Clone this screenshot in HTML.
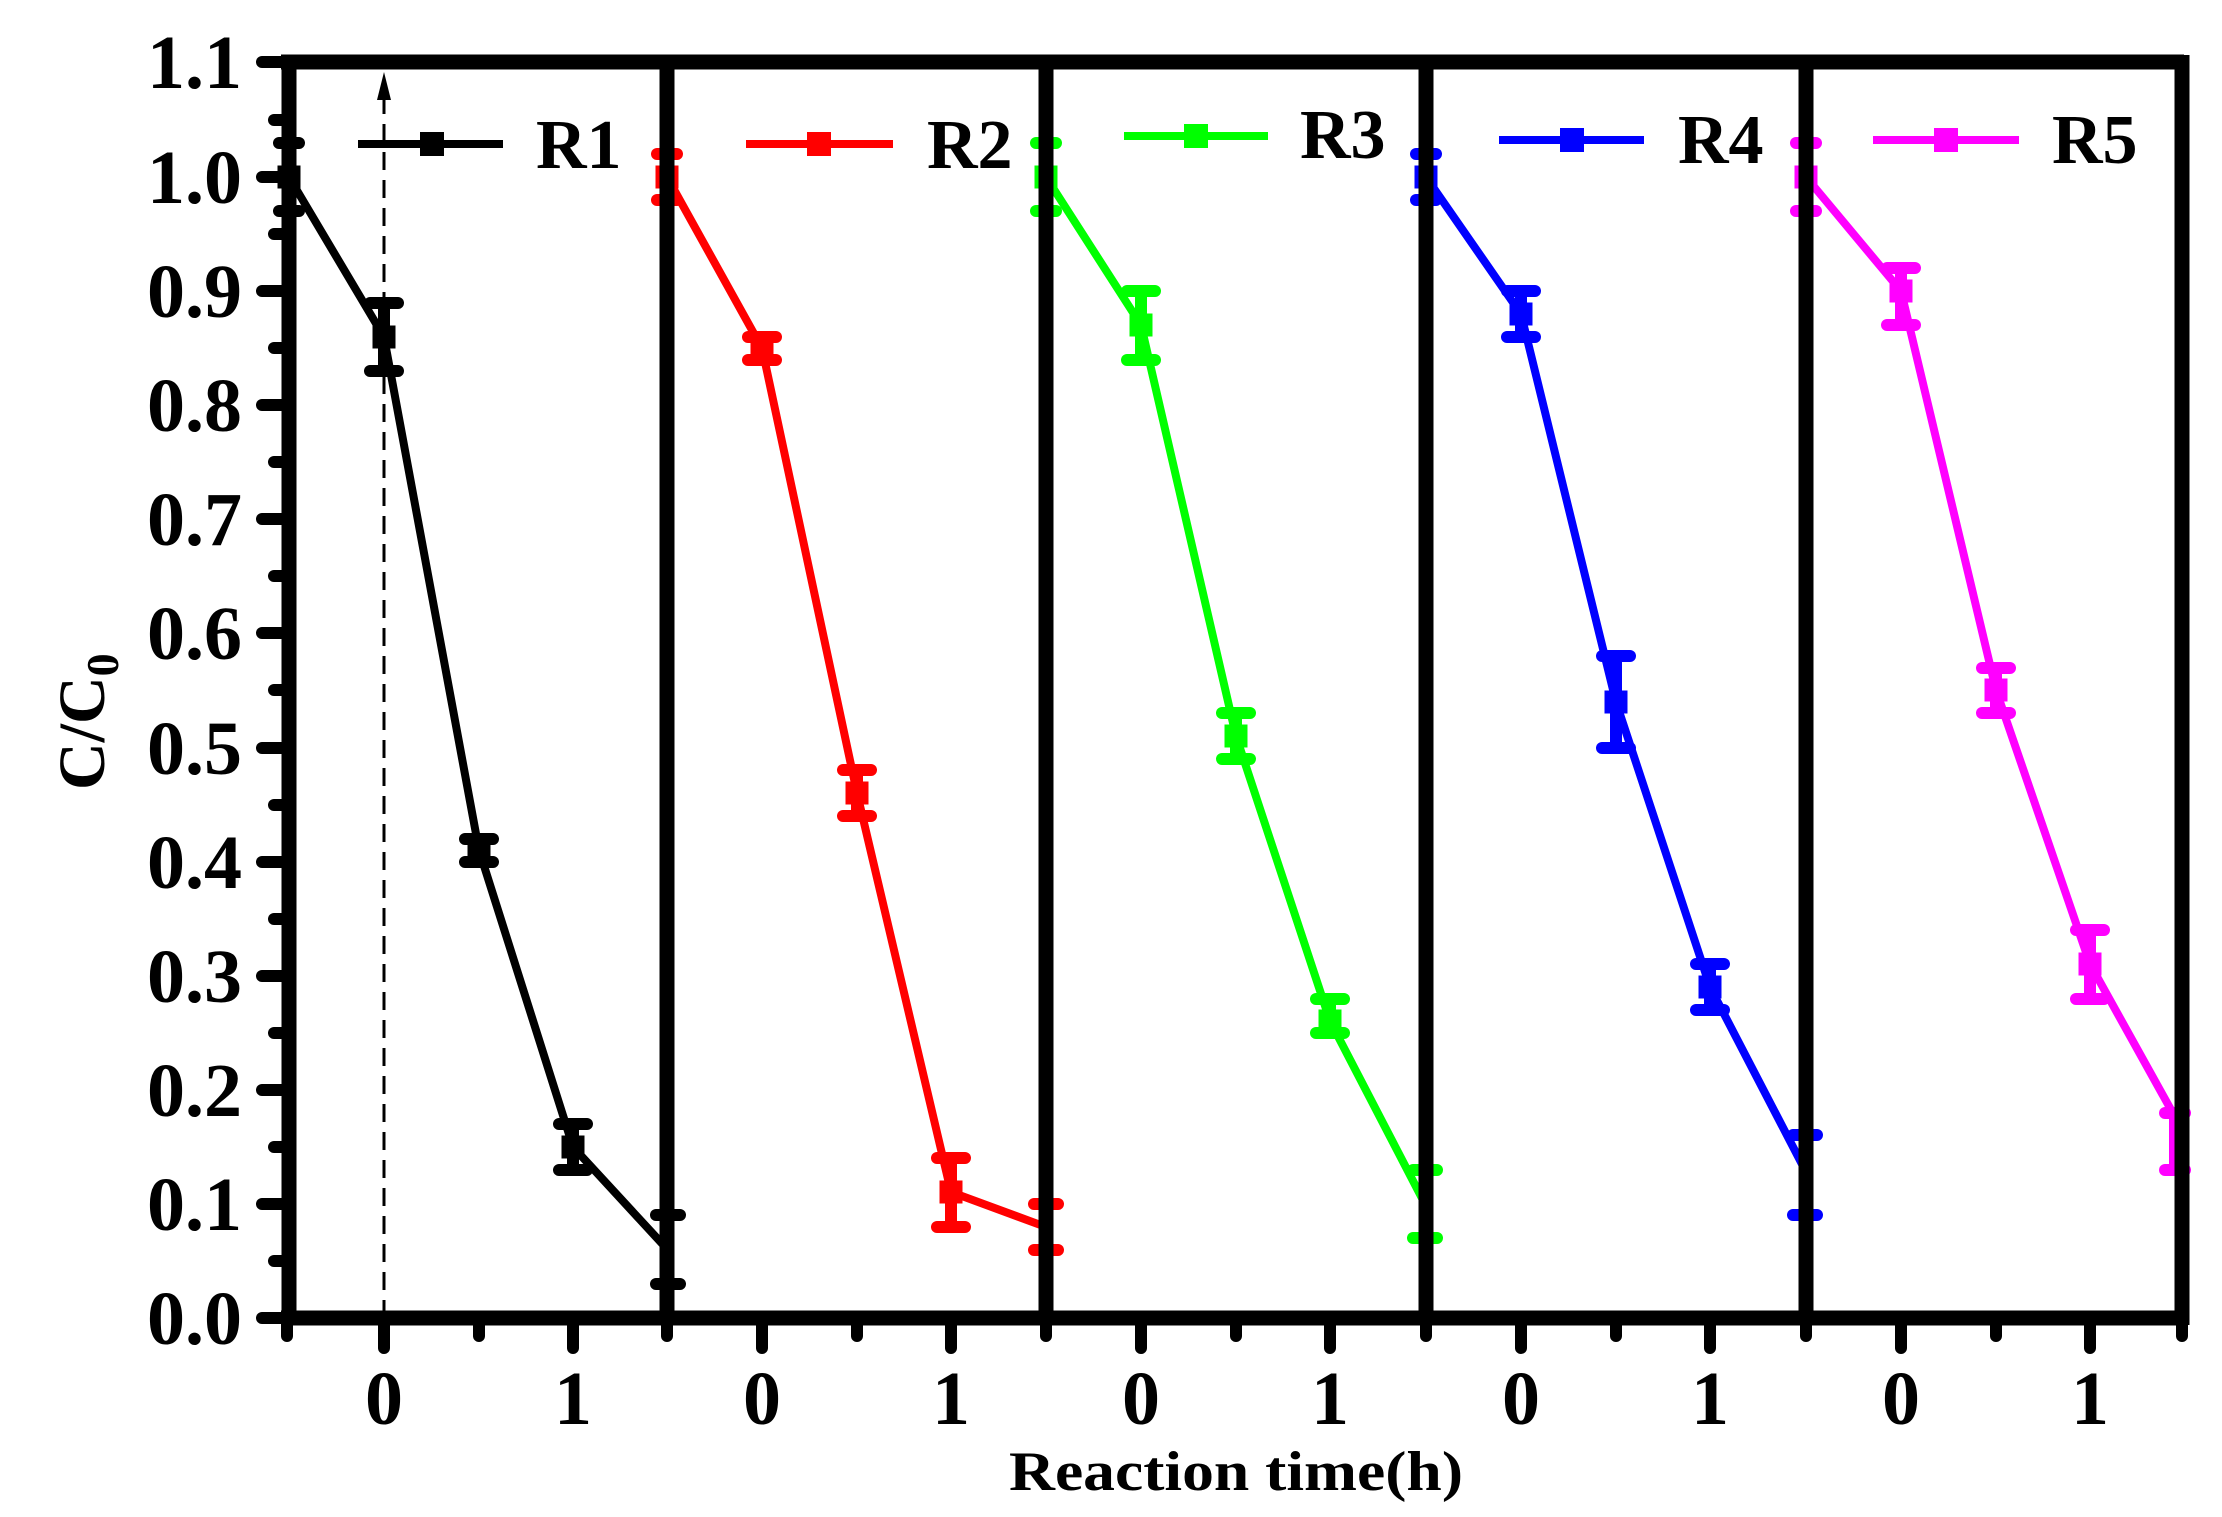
<!DOCTYPE html>
<html><head><meta charset="utf-8"><style>
html,body{margin:0;padding:0;background:#fff;}
svg{display:block;}
text{font-family:"Liberation Serif",serif;font-weight:bold;fill:#000;}
</style></head><body>
<svg width="2222" height="1517" viewBox="0 0 2222 1517" xmlns="http://www.w3.org/2000/svg">
<rect width="2222" height="1517" fill="#fff"/>
<line x1="384" y1="1318" x2="384" y2="90" stroke="#000" stroke-width="3" stroke-dasharray="18,10"/>
<polygon points="384,72 377,100 391,100" fill="#000"/>

<g stroke="#000" fill="#000">
<polyline fill="none" stroke-width="8" points="289,177 384,337 479,850 573,1147 668,1250"/>
<g stroke-width="12" stroke-linecap="round">
<line x1="289" y1="143" x2="289" y2="211"/><line x1="279" y1="143" x2="299" y2="143"/><line x1="279" y1="211" x2="299" y2="211"/>
<line x1="384" y1="303" x2="384" y2="371"/><line x1="370" y1="303" x2="398" y2="303"/><line x1="370" y1="371" x2="398" y2="371"/>
<line x1="479" y1="839" x2="479" y2="862"/><line x1="465" y1="839" x2="493" y2="839"/><line x1="465" y1="862" x2="493" y2="862"/>
<line x1="573" y1="1124" x2="573" y2="1170"/><line x1="559" y1="1124" x2="587" y2="1124"/><line x1="559" y1="1170" x2="587" y2="1170"/>
<line x1="668" y1="1215" x2="668" y2="1284"/><line x1="656" y1="1215" x2="680" y2="1215"/><line x1="656" y1="1284" x2="680" y2="1284"/>
</g>
<rect x="278" y="166" width="22" height="22"/><rect x="373" y="326" width="22" height="22"/><rect x="468" y="839" width="22" height="22"/><rect x="562" y="1136" width="22" height="22"/>
</g>
<g stroke="#ff0000" fill="#ff0000">
<polyline fill="none" stroke-width="8" points="667,177 762,348 857,793 951,1192 1046,1227"/>
<g stroke-width="12" stroke-linecap="round">
<line x1="667" y1="154" x2="667" y2="200"/><line x1="657" y1="154" x2="677" y2="154"/><line x1="657" y1="200" x2="677" y2="200"/>
<line x1="762" y1="337" x2="762" y2="360"/><line x1="748" y1="337" x2="776" y2="337"/><line x1="748" y1="360" x2="776" y2="360"/>
<line x1="857" y1="770" x2="857" y2="816"/><line x1="843" y1="770" x2="871" y2="770"/><line x1="843" y1="816" x2="871" y2="816"/>
<line x1="951" y1="1158" x2="951" y2="1227"/><line x1="937" y1="1158" x2="965" y2="1158"/><line x1="937" y1="1227" x2="965" y2="1227"/>
<line x1="1046" y1="1204" x2="1046" y2="1250"/><line x1="1034" y1="1204" x2="1058" y2="1204"/><line x1="1034" y1="1250" x2="1058" y2="1250"/>
</g>
<rect x="656" y="166" width="22" height="22"/><rect x="751" y="337" width="22" height="22"/><rect x="846" y="782" width="22" height="22"/><rect x="940" y="1181" width="22" height="22"/>
</g>
<g stroke="#00ff00" fill="#00ff00">
<polyline fill="none" stroke-width="8" points="1046,177 1141,325 1236,736 1330,1021 1425,1204"/>
<g stroke-width="12" stroke-linecap="round">
<line x1="1046" y1="143" x2="1046" y2="211"/><line x1="1036" y1="143" x2="1056" y2="143"/><line x1="1036" y1="211" x2="1056" y2="211"/>
<line x1="1141" y1="291" x2="1141" y2="360"/><line x1="1127" y1="291" x2="1155" y2="291"/><line x1="1127" y1="360" x2="1155" y2="360"/>
<line x1="1236" y1="713" x2="1236" y2="759"/><line x1="1222" y1="713" x2="1250" y2="713"/><line x1="1222" y1="759" x2="1250" y2="759"/>
<line x1="1330" y1="999" x2="1330" y2="1033"/><line x1="1316" y1="999" x2="1344" y2="999"/><line x1="1316" y1="1033" x2="1344" y2="1033"/>
<line x1="1425" y1="1170" x2="1425" y2="1238"/><line x1="1413" y1="1170" x2="1437" y2="1170"/><line x1="1413" y1="1238" x2="1437" y2="1238"/>
</g>
<rect x="1035" y="166" width="22" height="22"/><rect x="1130" y="314" width="22" height="22"/><rect x="1225" y="725" width="22" height="22"/><rect x="1319" y="1010" width="22" height="22"/>
</g>
<g stroke="#0000ff" fill="#0000ff">
<polyline fill="none" stroke-width="8" points="1426,177 1521,314 1616,702 1710,987 1805,1170"/>
<g stroke-width="12" stroke-linecap="round">
<line x1="1426" y1="154" x2="1426" y2="200"/><line x1="1416" y1="154" x2="1436" y2="154"/><line x1="1416" y1="200" x2="1436" y2="200"/>
<line x1="1521" y1="291" x2="1521" y2="337"/><line x1="1507" y1="291" x2="1535" y2="291"/><line x1="1507" y1="337" x2="1535" y2="337"/>
<line x1="1616" y1="656" x2="1616" y2="748"/><line x1="1602" y1="656" x2="1630" y2="656"/><line x1="1602" y1="748" x2="1630" y2="748"/>
<line x1="1710" y1="964" x2="1710" y2="1010"/><line x1="1696" y1="964" x2="1724" y2="964"/><line x1="1696" y1="1010" x2="1724" y2="1010"/>
<line x1="1805" y1="1135" x2="1805" y2="1215"/><line x1="1793" y1="1135" x2="1817" y2="1135"/><line x1="1793" y1="1215" x2="1817" y2="1215"/>
</g>
<rect x="1415" y="166" width="22" height="22"/><rect x="1510" y="303" width="22" height="22"/><rect x="1605" y="691" width="22" height="22"/><rect x="1699" y="976" width="22" height="22"/>
</g>
<g stroke="#ff00ff" fill="#ff00ff">
<polyline fill="none" stroke-width="8" points="1806,177 1901,291 1996,690 2090,964 2185,1135"/>
<g stroke-width="12" stroke-linecap="round">
<line x1="1806" y1="143" x2="1806" y2="211"/><line x1="1796" y1="143" x2="1816" y2="143"/><line x1="1796" y1="211" x2="1816" y2="211"/>
<line x1="1901" y1="268" x2="1901" y2="325"/><line x1="1887" y1="268" x2="1915" y2="268"/><line x1="1887" y1="325" x2="1915" y2="325"/>
<line x1="1996" y1="668" x2="1996" y2="713"/><line x1="1982" y1="668" x2="2010" y2="668"/><line x1="1982" y1="713" x2="2010" y2="713"/>
<line x1="2090" y1="930" x2="2090" y2="999"/><line x1="2076" y1="930" x2="2104" y2="930"/><line x1="2076" y1="999" x2="2104" y2="999"/>
<line x1="2175" y1="1113" x2="2175" y2="1170"/><line x1="2165" y1="1113" x2="2185" y2="1113"/><line x1="2165" y1="1170" x2="2185" y2="1170"/>
</g>
<rect x="1795" y="166" width="22" height="22"/><rect x="1890" y="280" width="22" height="22"/><rect x="1985" y="679" width="22" height="22"/><rect x="2079" y="953" width="22" height="22"/>
</g>

<g stroke="#000" stroke-width="15" fill="none">
<line x1="281" y1="62" x2="2184" y2="62"/>
<line x1="281" y1="1318" x2="2184" y2="1318"/>
<line x1="289" y1="55" x2="289" y2="1325"/>
<line x1="667" y1="55" x2="667" y2="1325"/>
<line x1="1046" y1="55" x2="1046" y2="1325"/>
<line x1="1426" y1="55" x2="1426" y2="1325"/>
<line x1="1806" y1="55" x2="1806" y2="1325"/>
<line x1="2182" y1="55" x2="2182" y2="1325"/>
</g>
<g stroke="#000" stroke-width="12" stroke-linecap="round">
<line x1="262" y1="1318" x2="289" y2="1318"/><line x1="262" y1="1204" x2="289" y2="1204"/><line x1="262" y1="1090" x2="289" y2="1090"/><line x1="262" y1="976" x2="289" y2="976"/><line x1="262" y1="862" x2="289" y2="862"/><line x1="262" y1="748" x2="289" y2="748"/><line x1="262" y1="633" x2="289" y2="633"/><line x1="262" y1="519" x2="289" y2="519"/><line x1="262" y1="405" x2="289" y2="405"/><line x1="262" y1="291" x2="289" y2="291"/><line x1="262" y1="177" x2="289" y2="177"/><line x1="262" y1="62" x2="289" y2="62"/>
<line x1="274" y1="1261" x2="289" y2="1261"/><line x1="274" y1="1147" x2="289" y2="1147"/><line x1="274" y1="1033" x2="289" y2="1033"/><line x1="274" y1="919" x2="289" y2="919"/><line x1="274" y1="805" x2="289" y2="805"/><line x1="274" y1="690" x2="289" y2="690"/><line x1="274" y1="576" x2="289" y2="576"/><line x1="274" y1="462" x2="289" y2="462"/><line x1="274" y1="348" x2="289" y2="348"/><line x1="274" y1="234" x2="289" y2="234"/><line x1="274" y1="120" x2="289" y2="120"/>
</g>
<g stroke="#000" stroke-width="12" stroke-linecap="round">
<line x1="384" y1="1318" x2="384" y2="1348"/><line x1="573" y1="1318" x2="573" y2="1348"/>
<line x1="762" y1="1318" x2="762" y2="1348"/><line x1="951" y1="1318" x2="951" y2="1348"/>
<line x1="1141" y1="1318" x2="1141" y2="1348"/><line x1="1330" y1="1318" x2="1330" y2="1348"/>
<line x1="1521" y1="1318" x2="1521" y2="1348"/><line x1="1710" y1="1318" x2="1710" y2="1348"/>
<line x1="1901" y1="1318" x2="1901" y2="1348"/><line x1="2090" y1="1318" x2="2090" y2="1348"/>
<line x1="287" y1="1318" x2="287" y2="1336"/><line x1="479" y1="1318" x2="479" y2="1336"/><line x1="667" y1="1318" x2="667" y2="1336"/><line x1="857" y1="1318" x2="857" y2="1336"/><line x1="1046" y1="1318" x2="1046" y2="1336"/><line x1="1236" y1="1318" x2="1236" y2="1336"/><line x1="1426" y1="1318" x2="1426" y2="1336"/><line x1="1616" y1="1318" x2="1616" y2="1336"/><line x1="1806" y1="1318" x2="1806" y2="1336"/><line x1="1996" y1="1318" x2="1996" y2="1336"/><line x1="2182" y1="1318" x2="2182" y2="1336"/>
</g>
<g font-size="76" text-anchor="end">
<text x="242" y="1344">0.0</text><text x="242" y="1230">0.1</text><text x="242" y="1116">0.2</text><text x="242" y="1002">0.3</text><text x="242" y="888">0.4</text><text x="242" y="774">0.5</text><text x="242" y="659">0.6</text><text x="242" y="545">0.7</text><text x="242" y="431">0.8</text><text x="242" y="317">0.9</text><text x="242" y="203">1.0</text><text x="242" y="88">1.1</text>
</g>
<g font-size="76" text-anchor="middle">
<text x="384" y="1424">0</text><text x="573" y="1424">1</text>
<text x="762" y="1424">0</text><text x="951" y="1424">1</text>
<text x="1141" y="1424">0</text><text x="1330" y="1424">1</text>
<text x="1521" y="1424">0</text><text x="1710" y="1424">1</text>
<text x="1901" y="1424">0</text><text x="2090" y="1424">1</text>
</g>
<text x="1009" y="1490" font-size="56" textLength="454" lengthAdjust="spacingAndGlyphs">Reaction time(h)</text>
<text transform="translate(104,790) rotate(-90)" font-size="66">C/C<tspan font-size="46" dy="14">0</tspan></text>

<g stroke-width="8">
<line x1="358" y1="144" x2="503" y2="144" stroke="#000"/><rect x="420" y="132" width="24" height="24" fill="#000"/>
<line x1="746" y1="144" x2="893" y2="144" stroke="#ff0000"/><rect x="807" y="132" width="24" height="24" fill="#ff0000"/>
<line x1="1124" y1="136" x2="1268" y2="136" stroke="#00ff00"/><rect x="1184" y="124" width="24" height="24" fill="#00ff00"/>
<line x1="1499" y1="140" x2="1644" y2="140" stroke="#0000ff"/><rect x="1560" y="128" width="24" height="24" fill="#0000ff"/>
<line x1="1873" y1="140" x2="2019" y2="140" stroke="#ff00ff"/><rect x="1934" y="128" width="24" height="24" fill="#ff00ff"/>
</g>
<g font-size="70">
<text x="536" y="168">R1</text><text x="927" y="168">R2</text><text x="1300" y="158">R3</text><text x="1678" y="163">R4</text><text x="2052" y="163">R5</text>
</g>
</svg>
</body></html>
